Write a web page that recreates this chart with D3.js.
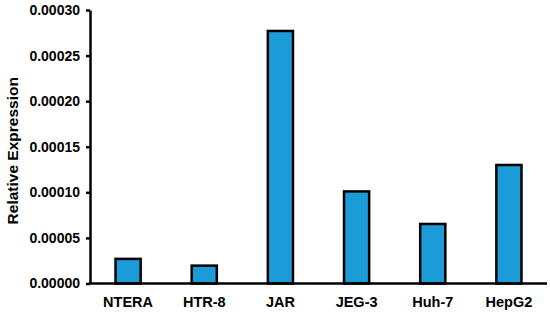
<!DOCTYPE html>
<html>
<head>
<meta charset="utf-8">
<script src="https://cdn.jsdelivr.net/npm/d3@7"></script>
<style>
  body { margin: 0; background: #fff; }
  svg text { font-family: "Liberation Sans", Arial, sans-serif; font-weight: bold; fill: #000; }
</style>
</head>
<body>
<svg id="chart" width="550" height="316"></svg>
<script>
// data
var categories = ["NTERA", "HTR-8", "JAR", "JEG-3", "Huh-7", "HepG2"];
var values = [0.0000270, 0.0000196, 0.000277, 0.000101, 0.0000653, 0.000130];
var yTicks = [0, 0.00005, 0.0001, 0.00015, 0.0002, 0.00025, 0.0003];

var svg = d3.select("#chart");
var margin = {left: 90, right: 3, top: 10, bottom: 32.5};
var width = 550 - margin.left - margin.right;
var height = 316 - margin.top - margin.bottom;

var g = svg.append("g").attr("transform", "translate(" + margin.left + "," + margin.top + ")");

var x = d3.scaleBand().domain(categories).range([0, width]).paddingInner(0.67).paddingOuter(0.335);
var y = d3.scaleLinear().domain([0, 0.0003]).range([height, 0]);

// bars
g.selectAll(".bar")
  .data(values)
  .enter().append("rect")
  .attr("class", "bar")
  .attr("x", function(d, i) { return x(categories[i]); })
  .attr("y", function(d) { return y(d); })
  .attr("width", x.bandwidth())
  .attr("height", function(d) { return height - y(d); })
  .attr("fill", "#1b9cd8")
  .attr("stroke", "#000")
  .attr("stroke-width", 2.5);

// y axis
var yAxis = g.append("g")
  .call(d3.axisLeft(y).tickValues(yTicks).tickFormat(d3.format(".5f")).tickSize(4).tickSizeOuter(0));
yAxis.select(".domain").attr("stroke-width", 2.5);
yAxis.selectAll(".tick line").attr("stroke-width", 2.5);
yAxis.selectAll("text").attr("x", -10).style("font-size", "14px");

// x axis
var xAxis = g.append("g")
  .attr("transform", "translate(0," + height + ")")
  .call(d3.axisBottom(x).tickSize(0).tickSizeOuter(0));
xAxis.select(".domain").attr("stroke-width", 2.5).attr("d", "M-1.25,0H" + width);
xAxis.selectAll("text").attr("dy", null).attr("y", 23.5).style("font-size", "14.5px");

// y title
svg.append("text")
  .attr("transform", "translate(18," + (margin.top + height / 2 + 4) + ") rotate(-90)")
  .attr("text-anchor", "middle")
  .style("font-size", "15.5px")
  .text("Relative Expression");
</script>
</body>
</html>
